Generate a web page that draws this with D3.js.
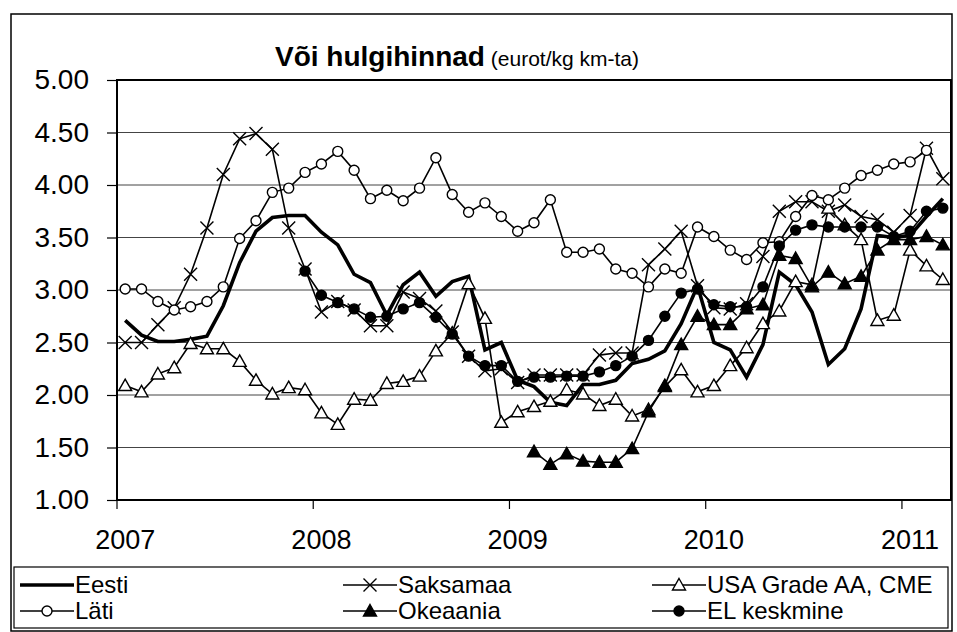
<!DOCTYPE html>
<html>
<head>
<meta charset="utf-8">
<script src="https://cdn.jsdelivr.net/npm/d3@7"></script>
<style>
  body { margin: 0; background: #fff; }
  svg { font-family: 'Liberation Sans', Arial, sans-serif; }
</style>
</head>
<body>
<div id="chart"></div>
<script>
// kuud jaanuar 2007 - märts 2011
let kuud = d3.timeMonth.range(new Date(2007, 0, 1), new Date(2011, 3, 1)).map(d3.timeFormat('%Y-%m'))
let aastad = ['2007', '2008', '2009', '2010', '2011']
let yTicks = [1, 1.5, 2, 2.5, 3, 3.5, 4, 4.5, 5]

let eesti = [2.71, 2.57, 2.51, 2.51, 2.53, 2.56, 2.85, 3.26, 3.56, 3.69, 3.71, 3.71,
  3.55, 3.43, 3.15, 3.07, 2.76, 3.05, 3.17, 2.94, 3.08, 3.13, 2.43, 2.50,
  2.14, 2.08, 1.93, 1.90, 2.10, 2.10, 2.14, 2.30, 2.34, 2.42, 2.68, 3.04,
  2.50, 2.43, 2.17, 2.48, 3.17, 3.05, 2.79, 2.29, 2.44, 2.82, 3.52, 3.50,
  3.52, 3.70, 3.87]
let saksamaa = [2.50, 2.50, 2.67, 2.83, 3.15, 3.59, 4.10, 4.44, 4.49, 4.34, 3.59, 3.20,
  2.79, 2.89, 2.81, 2.66, 2.66, 2.98, 2.92, 2.80, 2.60, 2.37, 2.23, 2.25,
  2.12, 2.19, 2.19, 2.19, 2.19, 2.38, 2.40, 2.40, 3.24, 3.39, 3.56, 3.04,
  2.83, 2.82, 2.87, 3.32, 3.75, 3.84, 3.84, 3.75, 3.81, 3.70, 3.67, 3.55,
  3.71, 4.35, 4.06]
let usa = [2.09, 2.03, 2.20, 2.26, 2.49, 2.44, 2.44, 2.32, 2.14, 2.01, 2.07, 2.05,
  1.83, 1.72, 1.96, 1.95, 2.11, 2.13, 2.18, 2.42, 2.59, 3.06, 2.73, 1.74,
  1.84, 1.89, 1.94, 2.05, 2.01, 1.90, 1.96, 1.80, 1.86, 2.08, 2.24, 2.03,
  2.09, 2.28, 2.45, 2.68, 2.80, 3.08, 3.05, 3.78, 3.62, 3.48, 2.71, 2.76,
  3.38, 3.23, 3.10]
let lati = [3.01, 3.01, 2.89, 2.81, 2.84, 2.89, 3.03, 3.49, 3.66, 3.93, 3.97, 4.12,
  4.20, 4.32, 4.14, 3.87, 3.95, 3.85, 3.97, 4.26, 3.91, 3.74, 3.83, 3.70,
  3.56, 3.64, 3.86, 3.36, 3.36, 3.39, 3.20, 3.16, 3.03, 3.20, 3.16, 3.60,
  3.51, 3.38, 3.29, 3.45, 3.46, 3.70, 3.90, 3.86, 3.97, 4.09, 4.14, 4.20,
  4.22, 4.33, null]
let okeaania = [null, null, null, null, null, null, null, null, null, null, null, null,
  null, null, null, null, null, null, null, null, null, null, null, null,
  null, 1.46, 1.34, 1.44, 1.37, 1.36, 1.36, 1.49, 1.84, 2.09, 2.48, 2.75,
  2.67, 2.67, 2.82, 2.86, 3.33, 3.30, 3.03, 3.17, 3.06, 3.13, 3.38, 3.48,
  3.48, 3.51, 3.43]
let elKeskmine = [null, null, null, null, null, null, null, null, null, null, null, 3.18,
  2.95, 2.88, 2.82, 2.74, 2.75, 2.82, 2.88, 2.74, 2.58, 2.37, 2.28, 2.28,
  2.13, 2.17, 2.17, 2.18, 2.18, 2.22, 2.28, 2.37, 2.52, 2.75, 2.97, 3.01,
  2.86, 2.84, 2.84, 3.03, 3.42, 3.57, 3.62, 3.60, 3.60, 3.60, 3.60, 3.51,
  3.56, 3.75, 3.78]

let seeriad = [
  { nimi: 'Eesti', v: eesti, m: 'none', paks: 3.6 },
  { nimi: 'Saksamaa', v: saksamaa, m: 'x', paks: 1.6 },
  { nimi: 'USA Grade AA, CME', v: usa, m: 'tri', paks: 1.6 },
  { nimi: 'Läti', v: lati, m: 'circ', paks: 1.6 },
  { nimi: 'Okeaania', v: okeaania, m: 'triF', paks: 1.6 },
  { nimi: 'EL keskmine', v: elKeskmine, m: 'circF', paks: 1.6 }
]

let W = 957, H = 632
let vasak = 117, parem = 951, yla = 80, all = 500

let svg = d3.select('#chart').append('svg').attr('width', W).attr('height', H)

// välimine raam
svg.append('rect').attr('x', 11).attr('y', 14).attr('width', 941).attr('height', 617)
  .attr('fill', 'none').attr('stroke', '#000').attr('stroke-width', 1.5)

let x = d3.scaleBand().domain(kuud).range([vasak, parem])
let xc = (i) => x(kuud[i]) + x.bandwidth() / 2
let y = d3.scaleLinear().domain([1, 5]).range([all, yla])

// ruudustik
svg.append('g').selectAll('line').data(yTicks.slice(1, -1)).enter().append('line')
  .attr('x1', vasak).attr('x2', parem)
  .attr('y1', d => y(d)).attr('y2', d => y(d))
  .attr('stroke', '#444').attr('stroke-width', 1)

// y telg
let yAxis = svg.append('g').attr('transform', `translate(${vasak},0)`)
  .call(d3.axisLeft(y).tickValues(yTicks).tickFormat(d3.format('.2f')).tickSize(10).tickPadding(18))
yAxis.select('.domain').remove()
yAxis.selectAll('.tick line').attr('stroke', '#000').attr('stroke-width', 1.2)
yAxis.selectAll('text').attr('font-size', 28).attr('fill', '#000').attr('font-family', 'Liberation Sans, Arial, sans-serif')

// x telje tickid aasta alguses
let janIdx = aastad.map(a => kuud.indexOf(a + '-01'))
svg.append('g').selectAll('line').data(janIdx).enter().append('line')
  .attr('x1', i => x(kuud[i])).attr('x2', i => x(kuud[i]))
  .attr('y1', all).attr('y2', all + 9)
  .attr('stroke', '#000').attr('stroke-width', 1.2)
svg.append('g').selectAll('text').data(janIdx).enter().append('text')
  .attr('x', i => xc(i)).attr('y', all + 49)
  .attr('text-anchor', 'middle').attr('font-size', 27)
  .text((d, k) => aastad[k])

// joonise raam
svg.append('rect').attr('x', vasak).attr('y', yla).attr('width', parem - vasak).attr('height', all - yla)
  .attr('fill', 'none').attr('stroke', '#000').attr('stroke-width', 2)

function marker(g, m, cx, cy) {
  if (m === 'x') {
    g.append('path').attr('d', `M${cx - 6.5},${cy - 6.5}L${cx + 6.5},${cy + 6.5}M${cx - 6.5},${cy + 6.5}L${cx + 6.5},${cy - 6.5}`)
      .attr('stroke', '#000').attr('stroke-width', 1.4)
  } else if (m === 'tri' || m === 'triF') {
    g.append('path').attr('d', `M${cx},${cy - 6.5}L${cx + 6.5},${cy + 5}L${cx - 6.5},${cy + 5}Z`)
      .attr('fill', m === 'tri' ? '#fff' : '#000').attr('stroke', '#000').attr('stroke-width', 1.4)
  } else if (m === 'circ' || m === 'circF') {
    g.append('circle').attr('cx', cx).attr('cy', cy).attr('r', 5)
      .attr('fill', m === 'circ' ? '#fff' : '#000').attr('stroke', '#000').attr('stroke-width', 1.4)
  }
}

let joon = d3.line().defined(d => d != null).x((d, i) => xc(i)).y(d => y(d))

seeriad.forEach(s => {
  let g = svg.append('g')
  g.append('path').attr('d', joon(s.v)).attr('fill', 'none')
    .attr('stroke', '#000').attr('stroke-width', s.paks).attr('stroke-linejoin', 'miter')
  s.v.forEach((d, i) => { if (d != null) marker(g, s.m, xc(i), y(d)) })
})

// pealkiri
let pk = svg.append('text').attr('x', 275).attr('y', 66)
pk.append('tspan').attr('font-weight', 'bold').attr('font-size', 28).text('Või hulgihinnad')
pk.append('tspan').attr('font-size', 21).text(' (eurot/kg km-ta)')

// legend
svg.append('rect').attr('x', 14).attr('y', 567).attr('width', 934).attr('height', 61)
  .attr('fill', 'none').attr('stroke', '#000').attr('stroke-width', 1.2)
let legX = [20, 343, 652]
let legY = [585, 611]
seeriad.forEach((s, k) => {
  let lx = legX[k % 3], ly = legY[Math.floor(k / 3)]
  let g = svg.append('g')
  g.append('line').attr('x1', lx).attr('x2', lx + 54).attr('y1', ly).attr('y2', ly)
    .attr('stroke', '#000').attr('stroke-width', s.paks)
  marker(g, s.m, lx + 27, ly)
  g.append('text').attr('x', lx + 55).attr('y', ly + 8).attr('font-size', 24).text(s.nimi)
})
</script>
</body>
</html>
